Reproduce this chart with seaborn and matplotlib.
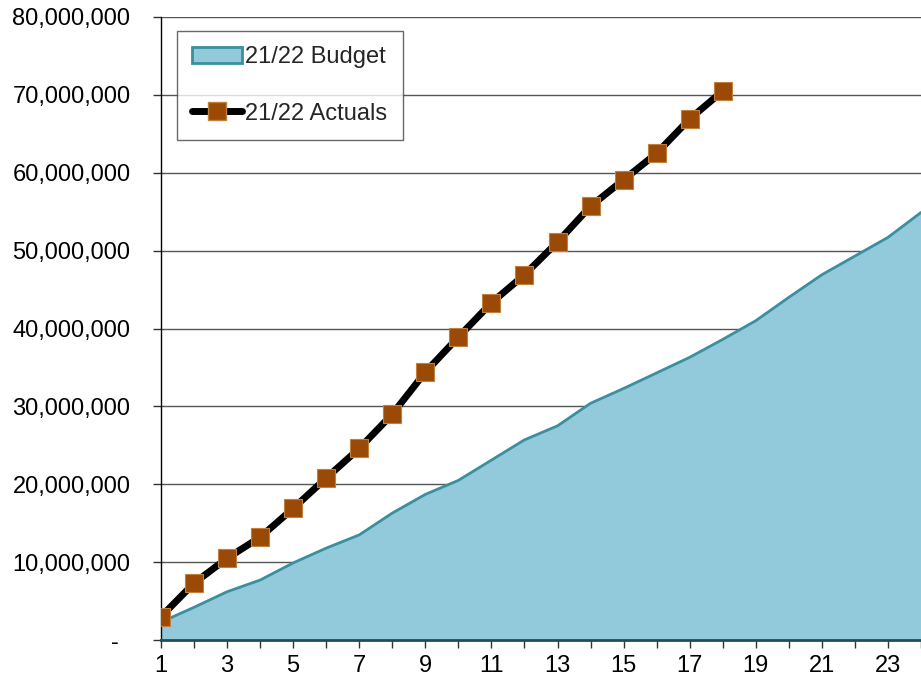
import numpy as np
import pandas as pd
import seaborn as sns
import matplotlib.pyplot as plt
import matplotlib.ticker as mticker
from matplotlib.patches import Patch
from matplotlib.lines import Line2D

# === data ===
periods_budget = list(range(1, 25))
budget = [2.3, 4.2, 6.2, 7.7, 9.9, 11.8, 13.5, 16.3, 18.7, 20.5, 23.1, 25.7,
          27.5, 30.4, 32.3, 34.3, 36.3, 38.6, 41.0, 44.0, 46.9, 49.3, 51.7, 54.9]
periods_actual = list(range(1, 19))
actuals = [3.0, 7.3, 10.5, 13.2, 16.9, 20.8, 24.6, 29.0, 34.4, 38.9, 43.3, 46.9,
           51.1, 55.7, 59.1, 62.5, 66.9, 70.5]
budget_label = '21/22 Budget'
actual_label = '21/22 Actuals'

FILL = '#93CADB'
EDGE = '#3A8FA0'
MARK = '#9A4A06'

df_b = pd.DataFrame({'period': periods_budget, 'value': np.array(budget) * 1e6})
df_a = pd.DataFrame({'period': periods_actual, 'value': np.array(actuals) * 1e6})

sns.set_theme(style='white')
plt.rcParams['font.family'] = ['Liberation Sans', 'DejaVu Sans']
plt.rcParams['font.size'] = 17

fig = plt.figure(figsize=(9.21, 6.79), dpi=100)
ax = fig.add_axes([0.1748, 0.0574, 0.8252, 0.9176])

# budget area
ax.fill_between(df_b['period'], df_b['value'], color=FILL, zorder=2)
sns.lineplot(data=df_b, x='period', y='value', ax=ax, color=EDGE, lw=2, zorder=3)

# actuals line
sns.lineplot(data=df_a, x='period', y='value', ax=ax, color='black', lw=5,
             marker='s', markersize=12.5, markerfacecolor=MARK,
             markeredgecolor='#C08040', markeredgewidth=0.8, zorder=4)

ax.set_xlim(1, 23.9)
ax.set_ylim(0, 80e6)
ax.set_yticks(np.arange(0, 80e6 + 1, 10e6))
# zero shown as a dash, accounting style
ax.yaxis.set_major_formatter(mticker.FuncFormatter(
    lambda v, p: '-\u2002' if v == 0 else f'{int(v):,}'))
ax.set_xticks(range(1, 25))
ax.set_xticklabels([str(i) if i % 2 == 1 else '' for i in range(1, 25)])
ax.grid(axis='y', color='#555555', lw=1, zorder=1)
ax.set_axisbelow(True)
ax.set_xlabel('')
ax.set_ylabel('')

for s in ['top', 'right']:
    ax.spines[s].set_visible(False)
ax.spines['left'].set_color('black')
ax.spines['left'].set_linewidth(1)
ax.spines['bottom'].set_color('#1F4E5A')
ax.spines['bottom'].set_linewidth(2)
ax.tick_params(axis='both', which='major', direction='out', length=6, width=1,
               color='#333333', labelsize=17, labelcolor='black', bottom=True, left=True)
ax.tick_params(axis='y', pad=16)
ax.tick_params(axis='x', pad=5)

handles = [Patch(facecolor=FILL, edgecolor=EDGE, lw=2),
           Line2D([], [], color='black', lw=5, marker='s', markersize=12.5,
                  markerfacecolor=MARK, markeredgecolor='#C08040')]
leg = ax.legend(handles, [budget_label, actual_label], loc='upper left',
                bbox_to_anchor=(0.021, 0.9775), frameon=True, fancybox=False,
                edgecolor='#444444', fontsize=17, handlelength=2.1,
                handletextpad=0.15, labelspacing=1.45, borderpad=0.65,
                borderaxespad=0)
leg.get_frame().set_linewidth(1)

fig.savefig('out.png', dpi=100)
